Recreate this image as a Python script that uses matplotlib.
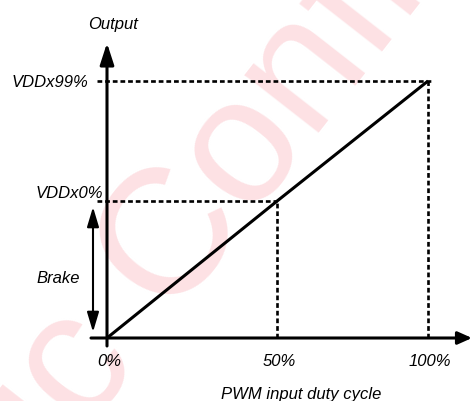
import matplotlib
matplotlib.use("Agg")
import matplotlib.pyplot as plt

# ---- data (schematic units) ----
duty_pos = [0, 53, 100]            # positions of the duty-cycle marks
duty_labels = ["0%", "50%", "100%"]
output_vals = [0, 53.3, 100]       # output level at each duty mark
level_labels = ["VDDx0%", "VDDx99%"]
x_title = "PWM input duty cycle"
y_title = "Output"
brake_label = "Brake"
watermark = "ic Confidential"

W, H = 472, 401
fig = plt.figure(figsize=(W / 100, H / 100), dpi=100)
ax = fig.add_axes([107 / W, 63 / H, 321 / W, 257 / H])
ax.set_xlim(0, 100)
ax.set_ylim(0, 100)
ax.set_axis_off()
ax.patch.set_visible(False)

inv = ax.transData.inverted()
def P(xp, yp):
    """pixel (from top-left) -> data"""
    return inv.transform((xp, H - yp))

font = dict(family=["Liberation Sans", "DejaVu Sans"], style="italic", fontsize=12, color="black")

# watermark
fig.text(60 / W, 1 - 464 / H, watermark, rotation=52, rotation_mode="anchor",
         ha="left", va="baseline", fontsize=129, color="#fde1e4",
         family=["Liberation Sans", "DejaVu Sans"], zorder=-5)

# axes arrows
y_bot = P(0, 346)[1]
y_top = P(0, 43)[1]
ax.annotate("", xy=(0, y_top), xytext=(0, y_bot),
            arrowprops=dict(arrowstyle="-|>,head_length=1.3,head_width=0.42",
                            lw=2.2, color="black", shrinkA=0, shrinkB=0,
                            mutation_scale=10), annotation_clip=False)
x_left = P(91, 0)[0]
x_right = P(472, 0)[0]
ax.annotate("", xy=(x_right, 0), xytext=(x_left, 0),
            arrowprops=dict(arrowstyle="-|>,head_length=0.85,head_width=0.38",
                            lw=2.2, color="black", shrinkA=0, shrinkB=0,
                            mutation_scale=10), annotation_clip=False)

# dashed guide lines
dash_kw = dict(color="black", lw=1.9, dashes=(1.8, 1.1), dash_capstyle="butt",
               clip_on=False)
x_start = P(97, 0)[0]
ax.plot([x_start, duty_pos[1]], [output_vals[1]] * 2, **dash_kw)
ax.plot([x_start, duty_pos[2] + 0.8], [output_vals[2]] * 2, **dash_kw)
ax.plot([duty_pos[1]] * 2, [0, output_vals[1]], **dash_kw)
ax.plot([duty_pos[2]] * 2, [0, output_vals[2]], **dash_kw)

# transfer line
ax.plot(duty_pos, output_vals, color="black", lw=2.2, solid_capstyle="butt",
        clip_on=False)

# brake double arrow
bx = P(93, 0)[0]
ax.annotate("", xy=(bx, P(0, 207)[1]), xytext=(bx, P(0, 332)[1]),
            arrowprops=dict(arrowstyle="<|-|>,head_length=1.2,head_width=0.36",
                            lw=1.5, color="black", shrinkA=0, shrinkB=0,
                            mutation_scale=10), annotation_clip=False)

# texts
def T(xp, yp, s, ha="center"):
    x, y = P(xp, yp)
    ax.text(x, y, s, ha=ha, va="baseline", clip_on=False, **font)

T(113, 29, y_title)
T(88, 87, level_labels[1], ha="right")
T(103, 198, level_labels[0], ha="right")
T(58, 283, brake_label)
for xpos, lab in zip(duty_pos, duty_labels):
    xp = ax.transData.transform((xpos, 0))[0]
    T(xp + 2, 366, lab)
T(301, 399.5, x_title)

fig.savefig("out.png", dpi=100)
